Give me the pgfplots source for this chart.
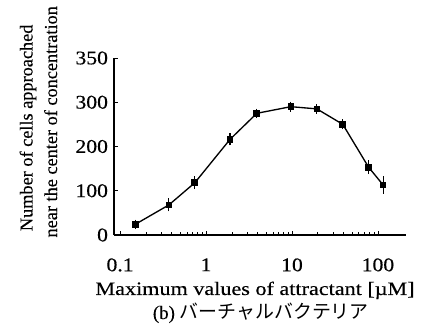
\documentclass[border=0pt]{standalone}
\usepackage{pgfplots}
\pgfplotsset{compat=1.18}
\usepackage{fontspec}
\setmainfont{Liberation Serif}
\newfontfamily\widefont[FakeStretch=1.17, Scale=1.42, FakeBold=0.3]{Liberation Serif}
\newfontfamily\ticklblfont[FakeStretch=1.12, Scale=1.45, FakeBold=0.4]{Liberation Serif}
\newfontfamily\ylabfont[Scale=1.37, FakeBold=0.3]{Liberation Serif}
\newfontfamily\jpfont[Scale=1.42]{Noto Sans CJK JP}
\newfontfamily\parenfont[Scale=1.42, FakeBold=0.3]{Liberation Serif}
\begin{document}
\begin{tikzpicture}
\useasboundingbox (-85.5pt,-72pt) rectangle (235.5pt,176.25pt);
\begin{axis}[
  at={(0,0)}, anchor=south west,
  scale only axis, width=219pt, height=132.75pt,
  xmode=log, xmin=0.085, xmax=212,
  ymin=0, ymax=400,
  axis x line*=bottom, axis y line*=left,
  axis line style={line width=0.9pt, -},
  xtick={0.1,1,10,100}, xticklabels={0.1,1,10,100},
  ytick={0,100,200,300,400}, yticklabels={0,100,200,300,350},
  tick align=inside, major tick length=3pt, minor tick length=2pt,
  tick style={black, line width=0.6pt},
  /pgf/number format/assume math mode=true,
  tick label style={font=\ticklblfont},
  xticklabel style={yshift=-14pt},
  yticklabel style={xshift=-1pt},
  clip=false,
]
\addplot[black, line width=1pt, mark=square*, mark size=2pt,
  error bars/.cd, y dir=both, y explicit, error mark options={black, line width=0.8pt, mark size=2.5pt}]
  table[x=x, y=y, y error=e] {
x y e
0.15 24 3
0.37 68 7
0.74 118 7
1.9 216 6
3.9 275 3
9.7 290 4
19.5 285 3
39 250 4
78 153 8
115 113 12
};
\node[font=\widefont, anchor=base] at (rel axis cs:0.483,0) [yshift=-45pt] {Maximum values of attractant [µM]};
\node[anchor=base] at (rel axis cs:0.503,0) [yshift=-63pt] {{\parenfont (b) }{\jpfont バーチャルバクテリア}};
\node[font=\ylabfont, xshift=-64.5pt, yshift=14pt, rotate=90, anchor=center] at (rel axis cs:0,0.5) {Number of cells approached};
\node[font=\ylabfont, xshift=-47.5pt, yshift=18.5pt, rotate=90, anchor=center] at (rel axis cs:0,0.5) {near the center of concentration};
\end{axis}
\end{tikzpicture}
\end{document}
